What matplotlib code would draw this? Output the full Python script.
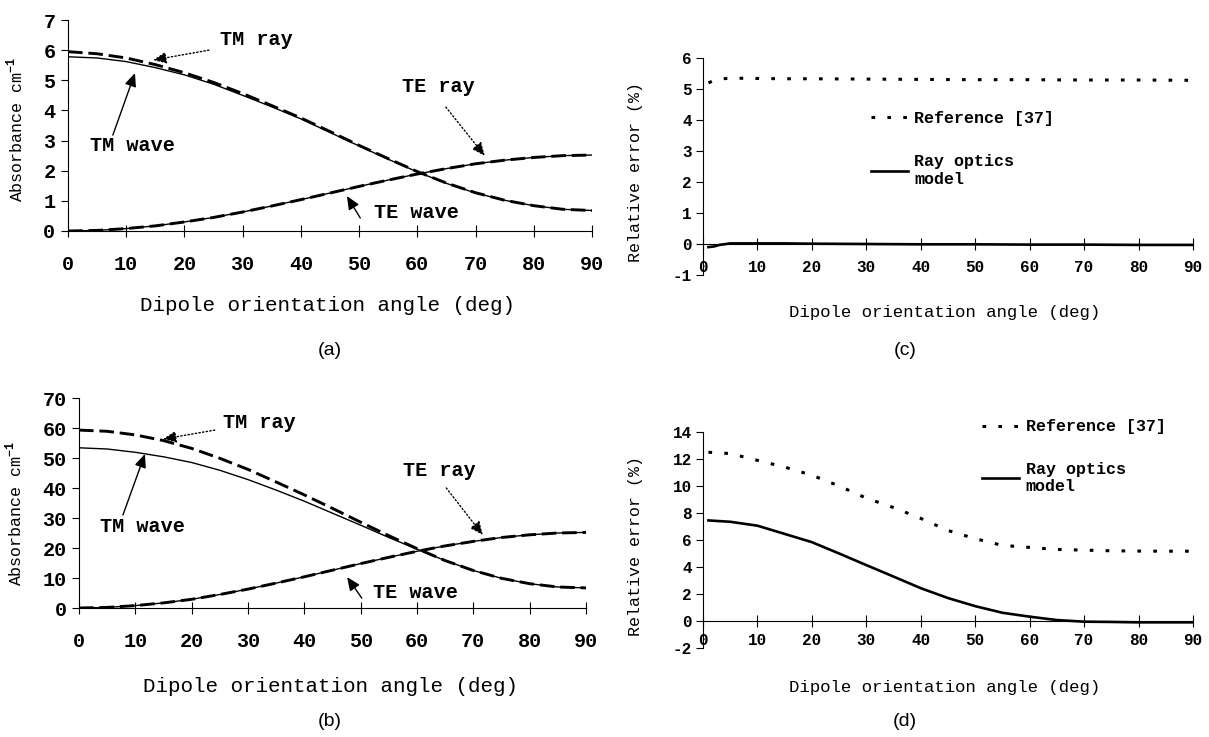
import numpy as np
import matplotlib.pyplot as plt

plt.rcParams['font.family'] = ['Liberation Mono', 'DejaVu Sans Mono']
plt.rcParams['font.weight'] = 'bold'
plt.rcParams['axes.unicode_minus'] = False
plt.rcParams['mathtext.fontset'] = 'custom'
plt.rcParams['mathtext.rm'] = 'Liberation Mono:bold'

# dipole orientation angle (deg)
ang = [0, 5, 10, 15, 20, 25, 30, 35, 40, 45, 50, 55, 60, 65, 70, 75, 80, 85, 90]

# (a) absorbance, cm^-1
tm_ray_a = [5.95, 5.88, 5.74, 5.52, 5.25, 4.93, 4.56, 4.16, 3.75, 3.30, 2.84, 2.40, 1.97, 1.59, 1.27, 1.02, 0.84, 0.72, 0.68]
tm_wave_a = [5.78, 5.74, 5.62, 5.42, 5.18, 4.87, 4.50, 4.12, 3.72, 3.27, 2.82, 2.38, 1.96, 1.58, 1.26, 1.02, 0.84, 0.72, 0.68]
te_ray_a = [0.0, 0.02, 0.08, 0.17, 0.30, 0.45, 0.63, 0.83, 1.04, 1.26, 1.48, 1.69, 1.89, 2.07, 2.23, 2.35, 2.44, 2.50, 2.52]
te_wave_a = [0.0, 0.02, 0.08, 0.17, 0.30, 0.45, 0.63, 0.83, 1.04, 1.26, 1.48, 1.69, 1.89, 2.07, 2.23, 2.35, 2.44, 2.50, 2.52]

# (b) absorbance, cm^-1
tm_ray_b = [59.3, 58.9, 57.7, 55.8, 53.2, 49.9, 46.2, 42.0, 37.7, 33.2, 28.6, 24.1, 19.8, 15.8, 12.5, 9.9, 8.1, 7.0, 6.7]
tm_wave_b = [53.4, 53.0, 51.9, 50.4, 48.5, 45.9, 42.8, 39.3, 35.6, 31.6, 27.6, 23.5, 19.6, 15.8, 12.5, 9.9, 8.1, 7.0, 6.7]
te_ray_b = [0.0, 0.2, 0.8, 1.7, 2.9, 4.5, 6.3, 8.3, 10.4, 12.6, 14.8, 16.9, 18.9, 20.7, 22.2, 23.5, 24.4, 25.0, 25.2]
te_wave_b = [0.0, 0.2, 0.8, 1.7, 2.9, 4.5, 6.3, 8.3, 10.4, 12.6, 14.8, 16.9, 18.9, 20.7, 22.2, 23.5, 24.4, 25.0, 25.2]

# (c) relative error (%)
ang_c = [1, 2, 3, 5, 10, 15, 20, 30, 40, 50, 60, 70, 80, 90]
ref_c = [5.20, 5.27, 5.32, 5.35, 5.34, 5.33, 5.33, 5.32, 5.31, 5.30, 5.30, 5.29, 5.29, 5.28]
ray_c = [-0.10, -0.08, -0.03, 0.02, 0.02, 0.02, 0.01, 0.0, -0.01, -0.01, -0.02, -0.02, -0.03, -0.03]

# (d) relative error (%)
ang_d = [1, 5, 10, 15, 20, 25, 30, 35, 40, 45, 50, 55, 60, 65, 70, 75, 80, 85, 90]
ref_d = [12.5, 12.4, 11.9, 11.4, 10.8, 10.0, 9.1, 8.4, 7.6, 6.7, 6.1, 5.6, 5.45, 5.3, 5.25, 5.2, 5.18, 5.17, 5.17]
ray_d = [7.45, 7.35, 7.06, 6.45, 5.84, 5.0, 4.14, 3.29, 2.43, 1.7, 1.1, 0.61, 0.32, 0.07, -0.05, -0.07, -0.1, -0.1, -0.1]

xticks = [0, 10, 20, 30, 40, 50, 60, 70, 80, 90]

W, H = 1209, 737
fig = plt.figure(figsize=(W / 100, H / 100), dpi=100)


def px_axes(left, top, right, bottom):
    return fig.add_axes([left / W, 1 - bottom / H, (right - left) / W, (bottom - top) / H])


def arrow(ax, start, head, dotted):
    ax.annotate('', xy=head, xytext=start,
                arrowprops=dict(arrowstyle='-|>,head_length=0.8,head_width=0.35',
                                color='black', lw=1.0,
                                linestyle=':' if dotted else '-',
                                shrinkA=0, shrinkB=0))


def absorbance_panel(ax, tm_ray, tm_wave, te_ray, te_wave, ymax, ystep, notes):
    ax.plot(ang, tm_wave, color='black', lw=1.0)
    ax.plot(ang, te_wave, color='black', lw=1.0)
    ax.plot(ang, tm_ray, color='black', lw=2.1, linestyle=(0, (5, 2)))
    ax.plot(ang, te_ray, color='black', lw=2.1, linestyle=(0, (5, 2)))
    ax.set_xlim(0, 90)
    ax.set_ylim(0, ymax)
    ax.set_xticks(xticks)
    ax.set_yticks(np.arange(0, ymax + ystep / 2, ystep))
    for s in ['top', 'right']:
        ax.spines[s].set_visible(False)
    for s in ['left', 'bottom']:
        ax.spines[s].set_linewidth(0.8)
    ax.tick_params(axis='x', direction='inout', length=8, width=0.8, pad=13, labelsize=14.5)
    ax.tick_params(axis='y', direction='out', length=5, width=0.8, pad=4, labelsize=14.5)
    ax.set_ylabel('Absorbance cm$^{-1}$', fontsize=12)
    ax.set_xlabel('Dipole orientation angle (deg)', fontsize=15)
    for txt, tpos, start, head, dotted in notes:
        ax.text(tpos[0], tpos[1], txt, fontsize=14.5, ha='center', va='center')
        arrow(ax, start, head, dotted)


def error_panel(ax, xs, ref, ray, ymin, ymax, ystep, leg_xy, spacing):
    ax.plot(xs, ref, color='black', lw=2.2, linestyle=(0, (1.2, 4.0)), label='Reference [37]')
    ax.plot(xs, ray, color='black', lw=1.9, label='Ray optics\nmodel')
    ax.set_xlim(0, 90)
    ax.set_ylim(ymin, ymax)
    ax.set_xticks(xticks)
    ax.set_yticks(np.arange(ymin, ymax + ystep / 2, ystep))
    for s in ['top', 'right', 'bottom']:
        ax.spines[s].set_visible(False)
    ax.spines['left'].set_linewidth(0.8)
    ax.tick_params(axis='x', length=0, pad=-11, labelsize=11.5)
    ax.tick_params(axis='y', direction='out', length=5, width=0.8, pad=3, labelsize=11.5)
    # axis line through zero with crossing ticks
    sec = ax.secondary_xaxis(0, transform=ax.transData)
    sec.set_xticks(xticks)
    sec.tick_params(direction='inout', length=8, width=0.8, labelbottom=False)
    sec.spines['bottom'].set_linewidth(0.8)
    ax.set_ylabel('Relative error (%)', fontsize=12)
    ax.set_xlabel('Dipole orientation angle (deg)', fontsize=12.5)
    ax.legend(loc='upper left', bbox_to_anchor=leg_xy, frameon=False, fontsize=12,
              borderpad=0, borderaxespad=0, handlelength=2.2, handletextpad=0.4,
              labelspacing=spacing)


# (a)
ax_a = px_axes(68, 20, 592, 231)
absorbance_panel(ax_a, tm_ray_a, tm_wave_a, te_ray_a, te_wave_a, 7, 1, [
    ('TM ray', (32.3, 6.34), (24.2, 6.0), (14.6, 5.67), True),
    ('TM wave', (11.0, 2.82), (7.7, 3.18), (11.5, 5.24), False),
    ('TE ray', (63.6, 4.78), (64.9, 4.11), (71.6, 2.49), True),
    ('TE wave', (59.8, 0.6), (50.2, 0.43), (47.9, 1.16), False),
])
ax_a.xaxis.set_label_coords(0.496, -0.31)
ax_a.yaxis.set_label_coords(-0.08, 0.48)

# (b)
ax_b = px_axes(79, 398, 586, 608)
absorbance_panel(ax_b, tm_ray_b, tm_wave_b, te_ray_b, te_wave_b, 70, 10, [
    ('TM ray', (32.1, 62.0), (24.1, 59.3), (14.9, 56.3), True),
    ('TM wave', (11.3, 27.0), (7.8, 31.0), (11.7, 51.3), False),
    ('TE ray', (63.9, 46.0), (65.2, 40.0), (71.7, 24.3), True),
    ('TE wave', (59.8, 5.0), (50.2, 3.3), (47.6, 10.3), False),
])
ax_b.xaxis.set_label_coords(0.497, -0.33)
ax_b.yaxis.set_label_coords(-0.106, 0.45)

# (c)
ax_c = px_axes(703, 58, 1193, 275)
error_panel(ax_c, ang_c, ref_c, ray_c, -1, 6, 1, (0.343, 0.756), 1.7)
ax_c.xaxis.set_label_coords(0.494, -0.14)
ax_c.yaxis.set_label_coords(-0.122, 0.475)

# (d)
ax_d = px_axes(703, 432, 1193, 648)
error_panel(ax_d, ang_d, ref_d, ray_d, -2, 14, 2, (0.570, 1.058), 1.65)
ax_d.xaxis.set_label_coords(0.494, -0.15)
ax_d.yaxis.set_label_coords(-0.122, 0.47)

# panel captions
for lab, x, y in [('(a)', 330, 350), ('(c)', 905, 350), ('(b)', 330, 722), ('(d)', 905, 722)]:
    fig.text(x / W, 1 - y / H, lab, family='Liberation Sans', weight='normal',
             fontsize=14, ha='center', va='center')

fig.savefig('out.png', dpi=100)
